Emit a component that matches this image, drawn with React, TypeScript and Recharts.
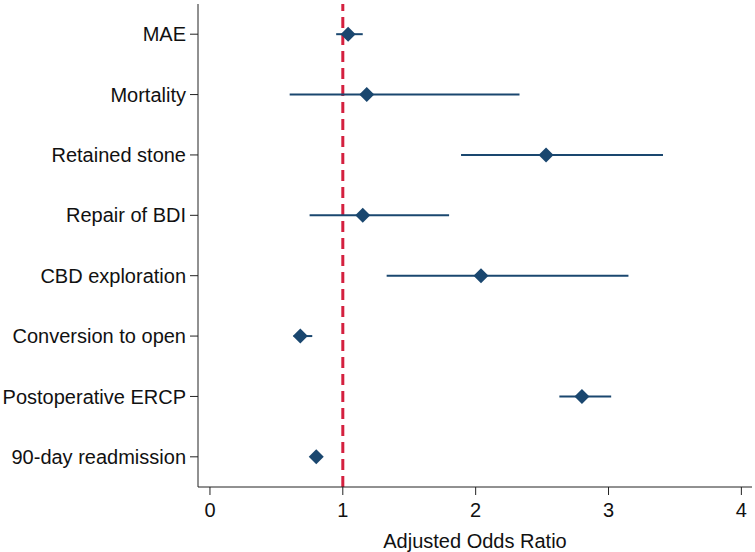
import { ScatterChart, Scatter, XAxis, YAxis, ErrorBar, ReferenceLine, Label } from 'recharts';

const outcomes = [
  'MAE',
  'Mortality',
  'Retained stone',
  'Repair of BDI',
  'CBD exploration',
  'Conversion to open',
  'Postoperative ERCP',
  '90-day readmission',
];
const oddsRatios = [1.04, 1.18, 2.53, 1.15, 2.04, 0.68, 2.8, 0.8];
const ciLower = [0.95, 0.6, 1.89, 0.75, 1.33, 0.63, 2.63, 0.76];
const ciUpper = [1.15, 2.33, 3.41, 1.8, 3.15, 0.77, 3.02, 0.84];
const xTicks = [0, 1, 2, 3, 4];

const NAVY = '#1a476f';
const RED = '#d4203f';
const FONT = '"Liberation Sans", Arial, Helvetica, sans-serif';

const rows = outcomes.map((name, i) => ({
  name,
  pos: outcomes.length - i,
  or: oddsRatios[i],
  err: [oddsRatios[i] - ciLower[i], ciUpper[i] - oddsRatios[i]],
}));
const yTicks = rows.map((r) => r.pos);

const Diamond = (props: any) => {
  const { cx, cy } = props;
  const r = 7.5;
  return <polygon points={`${cx},${cy - r} ${cx + r},${cy} ${cx},${cy + r} ${cx - r},${cy}`} fill={NAVY} />;
};

export default function App() {
  return (
    <div style={{ position: 'absolute', left: 0, top: 0, fontFamily: FONT }}>
      <ScatterChart width={755} height={552} margin={{ top: 4, right: 3, left: 0, bottom: 0 }}>
        <XAxis
          type="number"
          dataKey="or"
          domain={[-0.09, 4.08]}
          ticks={xTicks}
          allowDataOverflow
          height={65}
          tickSize={8}
          tickMargin={8}
          stroke="#222"
          tick={{ fontSize: 20, fill: '#111', fontFamily: FONT }}
        >
          <Label value="Adjusted Odds Ratio" position="insideBottom" offset={4} style={{ fontSize: 20, fill: '#111', fontFamily: FONT }} />
        </XAxis>
        <YAxis
          type="number"
          dataKey="pos"
          domain={[0.5, 8.5]}
          ticks={yTicks}
          width={198}
          tickSize={8}
          tickMargin={4}
          stroke="#222"
          interval={0}
          tickFormatter={(v: number) => outcomes[outcomes.length - v]}
          tick={{ fontSize: 20, fill: '#111', fontFamily: FONT }}
        />
        <ReferenceLine x={1} stroke={RED} strokeWidth={3} strokeDasharray="11 6" />
        <Scatter data={rows} shape={Diamond} isAnimationActive={false}>
          <ErrorBar dataKey="err" direction="x" width={0} stroke={NAVY} strokeWidth={2} />
        </Scatter>
      </ScatterChart>
    </div>
  );
}
